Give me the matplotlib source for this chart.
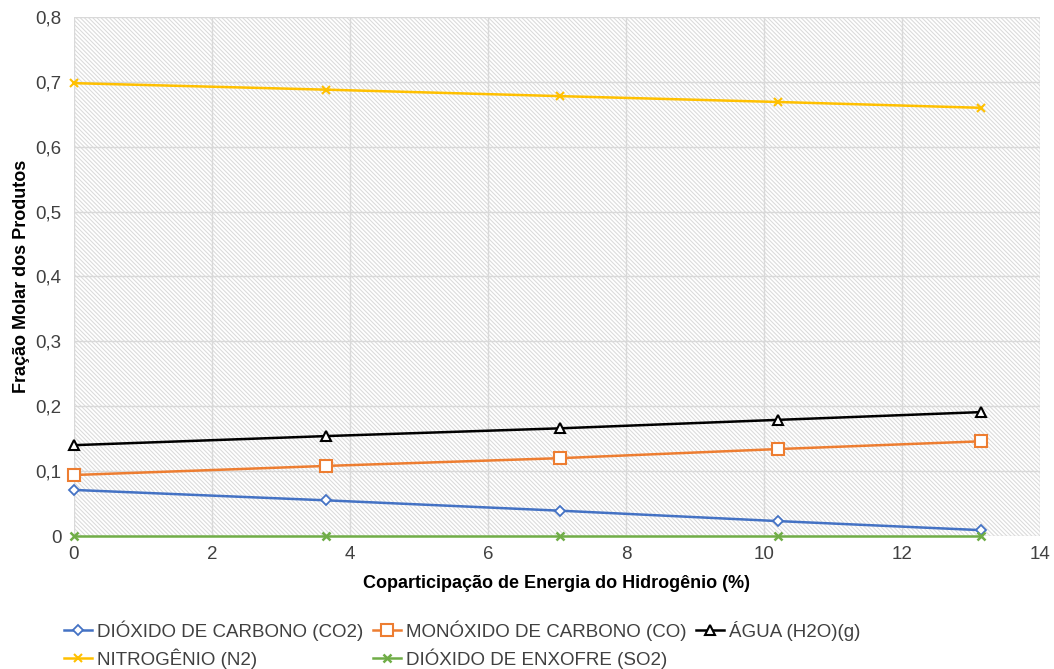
import matplotlib
matplotlib.use("Agg")
import matplotlib.pyplot as plt
from matplotlib.patches import Rectangle
from matplotlib.ticker import FuncFormatter, MultipleLocator

plt.rcParams['font.family'] = ['Liberation Sans', 'DejaVu Sans']
plt.rcParams['hatch.color'] = '#dadada'
plt.rcParams['hatch.linewidth'] = 0.75

# Coparticipação de energia do hidrogênio (%)
xData = [0, 3.65, 7.05, 10.2, 13.15]

co2 = [0.071, 0.055, 0.039, 0.023, 0.009]
co = [0.094, 0.108, 0.120, 0.134, 0.146]
h2o = [0.140, 0.154, 0.166, 0.179, 0.191]
n2 = [0.698, 0.688, 0.678, 0.669, 0.660]
so2 = [0.0, 0.0, 0.0, 0.0, 0.0]

fig = plt.figure(figsize=(10.54, 6.69), dpi=100)
ax = fig.add_axes([0.0702, 0.1988, 0.9165, 0.7758])

# fundo hachurado
ax.add_patch(Rectangle((0, 0), 1, 1, transform=ax.transAxes, facecolor='white',
                       linewidth=0, hatch='\\' * 8, zorder=0.2))
ax.set_axisbelow(True)
ax.grid(True, color='#d9d9d9', linewidth=1.0)

common = dict(linewidth=1.8, clip_on=False, zorder=3)
l1, = ax.plot(xData, co2, color='#4472C4', marker='D', markersize=5, markerfacecolor='white',
              markeredgewidth=1.3, label='DIÓXIDO DE CARBONO (CO2)', **common)
l2, = ax.plot(xData, co, color='#ED7D31', marker='s', markersize=8, markerfacecolor='white',
              markeredgewidth=1.5, label='MONÓXIDO DE CARBONO (CO)', **common)
l3, = ax.plot(xData, h2o, color='black', marker='^', markersize=7, markerfacecolor='white',
              markeredgewidth=1.5, label='ÁGUA (H2O)(g)', **common)
l4, = ax.plot(xData, n2, color='#FFC000', marker='x', markersize=6,
              markeredgewidth=1.5, label='NITROGÊNIO (N2)', **common)
l5, = ax.plot(xData, so2, color='#70AD47', marker='x', markersize=6,
              markeredgewidth=1.8, label='DIÓXIDO DE ENXOFRE (SO2)', **common)

ax.set_xlim(0, 14)
ax.set_ylim(0, 0.8)
ax.xaxis.set_major_locator(MultipleLocator(2))
ax.yaxis.set_major_locator(MultipleLocator(0.1))
ax.yaxis.set_major_formatter(FuncFormatter(lambda v, p: '0' if abs(v) < 1e-9 else ('%.1f' % v).replace('.', ',')))
ax.xaxis.set_major_formatter(FuncFormatter(lambda v, p: '%d' % v))
ax.tick_params(axis='y', length=0, labelsize=13.5, colors='#404040', pad=9)
ax.tick_params(axis='x', length=0, labelsize=13.5, colors='#404040', pad=7)
for s in ax.spines.values():
    s.set_visible(False)

ax.set_xlabel('Coparticipação de Energia do Hidrogênio (%)', fontsize=13, fontweight='bold', labelpad=9)
ax.set_ylabel('Fração Molar dos Produtos', fontsize=13, fontweight='bold', labelpad=4)

# ordem para o preenchimento por colunas
handles = [l1, l4, l2, l5, l3]
fig.legend(handles=handles, labels=[h.get_label() for h in handles], loc='lower left',
           bbox_to_anchor=(0.045, -0.025), ncol=3, frameon=False, fontsize=13.5,
           handlelength=1.5, handletextpad=0.27, columnspacing=0.5, labelspacing=0.4,
           labelcolor='#404040')

fig.savefig('out.png', dpi=100)
